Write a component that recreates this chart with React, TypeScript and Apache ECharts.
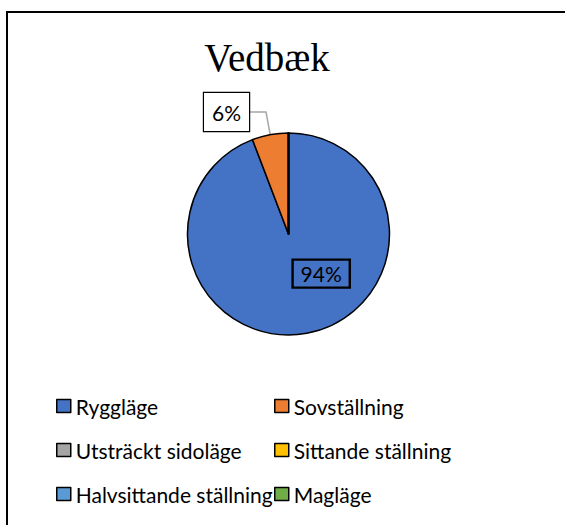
import React, { useEffect, useRef } from "react";
import * as echarts from "echarts";

const TITLE = "Vedbæk";
const categories = [
  "Ryggläge",
  "Sovställning",
  "Utsträckt sidoläge",
  "Sittande ställning",
  "Halvsittande ställning",
  "Magläge",
];
const values = [94.2, 5.8, 0, 0, 0, 0];
const colors = ["#4472C4", "#ED7D31", "#A5A5A5", "#FFC000", "#5B9BD5", "#70AD47"];

const SANS = "Lato, 'Open Sans', sans-serif";

export default function App() {
  const ref = useRef<HTMLDivElement>(null);
  useEffect(() => {
    document.body.style.margin = "0";
    if (!ref.current) return;
    const chart = echarts.init(ref.current, null, { renderer: "svg" });
    const data = categories.map((name, i) => ({
      name,
      value: values[i],
      itemStyle: { color: colors[i] },
      label:
        i === 0
          ? { show: values[i] > 0, position: "inside", padding: [4, 8, 3, 8], backgroundColor: "transparent" }
          : { show: values[i] > 0, padding: [9, 8, 8, 8] },
      labelLine: { show: values[i] > 0 && i !== 0 },
    }));
    const legendItemStyle = { borderColor: "#000", borderWidth: 1.5 };
    const legendCommon = {
      orient: "vertical" as const,
      top: 395,
      padding: 0,
      itemWidth: 14,
      itemHeight: 13,
      itemGap: 22,
      icon: "rect",
      selectedMode: false,
      itemStyle: legendItemStyle,
      textStyle: { fontFamily: SANS, fontSize: 21, lineHeight: 22, color: "#000" },
    };
    const legendData = (parity: number) =>
      categories
        .filter((_, i) => i % 2 === parity)
        .map((name) => ({ name, itemStyle: legendItemStyle }));
    chart.setOption({
      animation: false,
      backgroundColor: "#fff",
      title: {
        text: TITLE,
        left: 262,
        textAlign: "center",
        top: 33,
        textStyle: {
          fontFamily: "'Liberation Serif', 'Times New Roman', serif",
          fontSize: 39,
          fontWeight: "normal",
          color: "#000",
        },
      },
      graphic: [
        {
          type: "rect",
          shape: { x: 7, y: 12, width: 700, height: 700 },
          style: { fill: "none", stroke: "#000", lineWidth: 2 },
          silent: true,
        },
      ],
      legend: [
        { ...legendCommon, left: 56, data: legendData(0) },
        { ...legendCommon, left: 274, data: legendData(1) },
      ],
      series: [
        {
          type: "pie",
          center: [288.5, 234],
          radius: 101,
          startAngle: 90,
          clockwise: true,
          percentPrecision: 0,
          avoidLabelOverlap: false,
          itemStyle: { borderColor: "#000", borderWidth: 1.5 },
          label: {
            position: "outside",
            formatter: "{d}%",
            fontFamily: SANS,
            fontSize: 21,
            color: "#000",
            backgroundColor: "#fff",
            borderColor: "#000",
            borderWidth: 1.2,
            distanceToLabelLine: 0,
          },
          labelLine: {
            length: 23,
            length2: 17,
            lineStyle: { color: "#A6A6A6", width: 1.5 },
          },
          labelLayout: (params: any) =>
            params.dataIndex === 0 ? { dx: 23, dy: -13 } : {},
          data,
        },
      ],
    });
    return () => chart.dispose();
  }, []);
  return <div ref={ref} style={{ width: 565, height: 525 }} />;
}
